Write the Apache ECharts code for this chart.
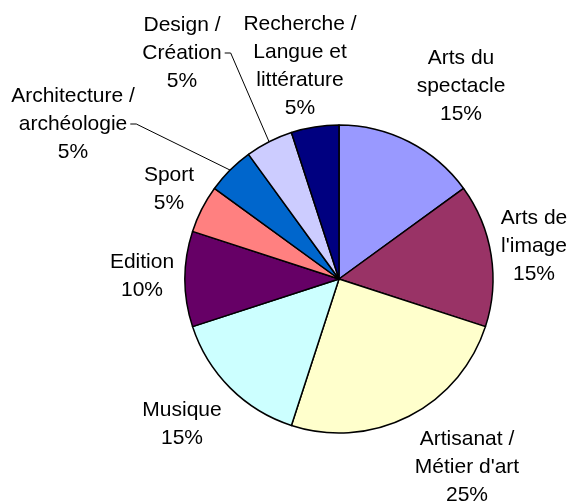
<!DOCTYPE html>
<html>
<head>
<meta charset="utf-8">
<script src="https://cdn.jsdelivr.net/npm/echarts@6/dist/echarts.min.js"></script>
<style>
  html, body { margin: 0; padding: 0; background: #fff; }
  #chart { width: 571px; height: 503px; }
</style>
</head>
<body>
<div id="chart"></div>
<script>
// categories, clockwise from 12 o'clock
var categories = [
  'Arts du\nspectacle',
  'Arts de\nl\'image',
  'Artisanat /\nMétier d\'art',
  'Musique',
  'Edition',
  'Sport',
  'Architecture /\narchéologie',
  'Design /\nCréation',
  'Recherche /\nLangue et\nlittérature'
];
var shares = [15, 15, 25, 15, 10, 5, 5, 5, 5];
var colors = ['#9999FF', '#993366', '#FFFFCC', '#CCFFFF', '#660066', '#FF8080', '#0066CC', '#CCCCFF', '#000080'];
// slices that keep a leader line
var withLine = [false, false, false, false, false, false, true, true, false];

// where each label block sits (centre, px)
var labelPos = [
  [461, 86], [534, 246], [467, 467], [182, 424], [142, 276],
  [169, 189], [73, 124], [182, 53], [300, 66]
];

var FONT = '21px "Liberation Sans", Arial, sans-serif';
var LINE_H = 28;
var ctx = document.createElement('canvas').getContext('2d');
ctx.font = FONT;

var chart = echarts.init(document.getElementById('chart'));

var data = categories.map(function (name, i) {
  return {
    name: name,
    value: shares[i],
    itemStyle: { color: colors[i] },
    labelLine: { show: withLine[i] }
  };
});

chart.setOption({
  backgroundColor: '#ffffff',
  animation: false,
  series: [{
    type: 'pie',
    center: [339, 279],
    radius: 154,
    startAngle: 90,
    clockwise: true,
    data: data,
    itemStyle: { borderColor: '#000', borderWidth: 1.5 },
    label: {
      show: true,
      position: 'outside',
      formatter: '{b}\n{d}%',
      color: '#000',
      fontFamily: '"Liberation Sans", Arial, sans-serif',
      fontSize: 21,
      lineHeight: LINE_H,
      align: 'center',
      overflow: 'none'
    },
    labelLine: {
      length: 10,
      length2: 10,
      lineStyle: { color: '#000', width: 1 }
    },
    labelLayout: function (params) {
      var i = params.dataIndex;
      var p = labelPos[i];
      var out = { x: p[0], y: p[1], align: 'center', verticalAlign: 'middle' };
      if (withLine[i] && params.labelLinePoints) {
        // leader line: from slice edge to the right end of the label's 2nd line
        var lines = (categories[i] + '\n' + shares[i] + '%').split('\n');
        var top = p[1] - lines.length * LINE_H / 2;
        var ly = top + LINE_H * 1.5;
        var lx = p[0] + ctx.measureText(lines[1]).width / 2 + 3;
        var start = params.labelLinePoints[0];
        out.labelLinePoints = [start, [lx + 6, ly], [lx, ly]];
      }
      return out;
    },
    emphasis: { disabled: true }
  }]
});
</script>
</body>
</html>
